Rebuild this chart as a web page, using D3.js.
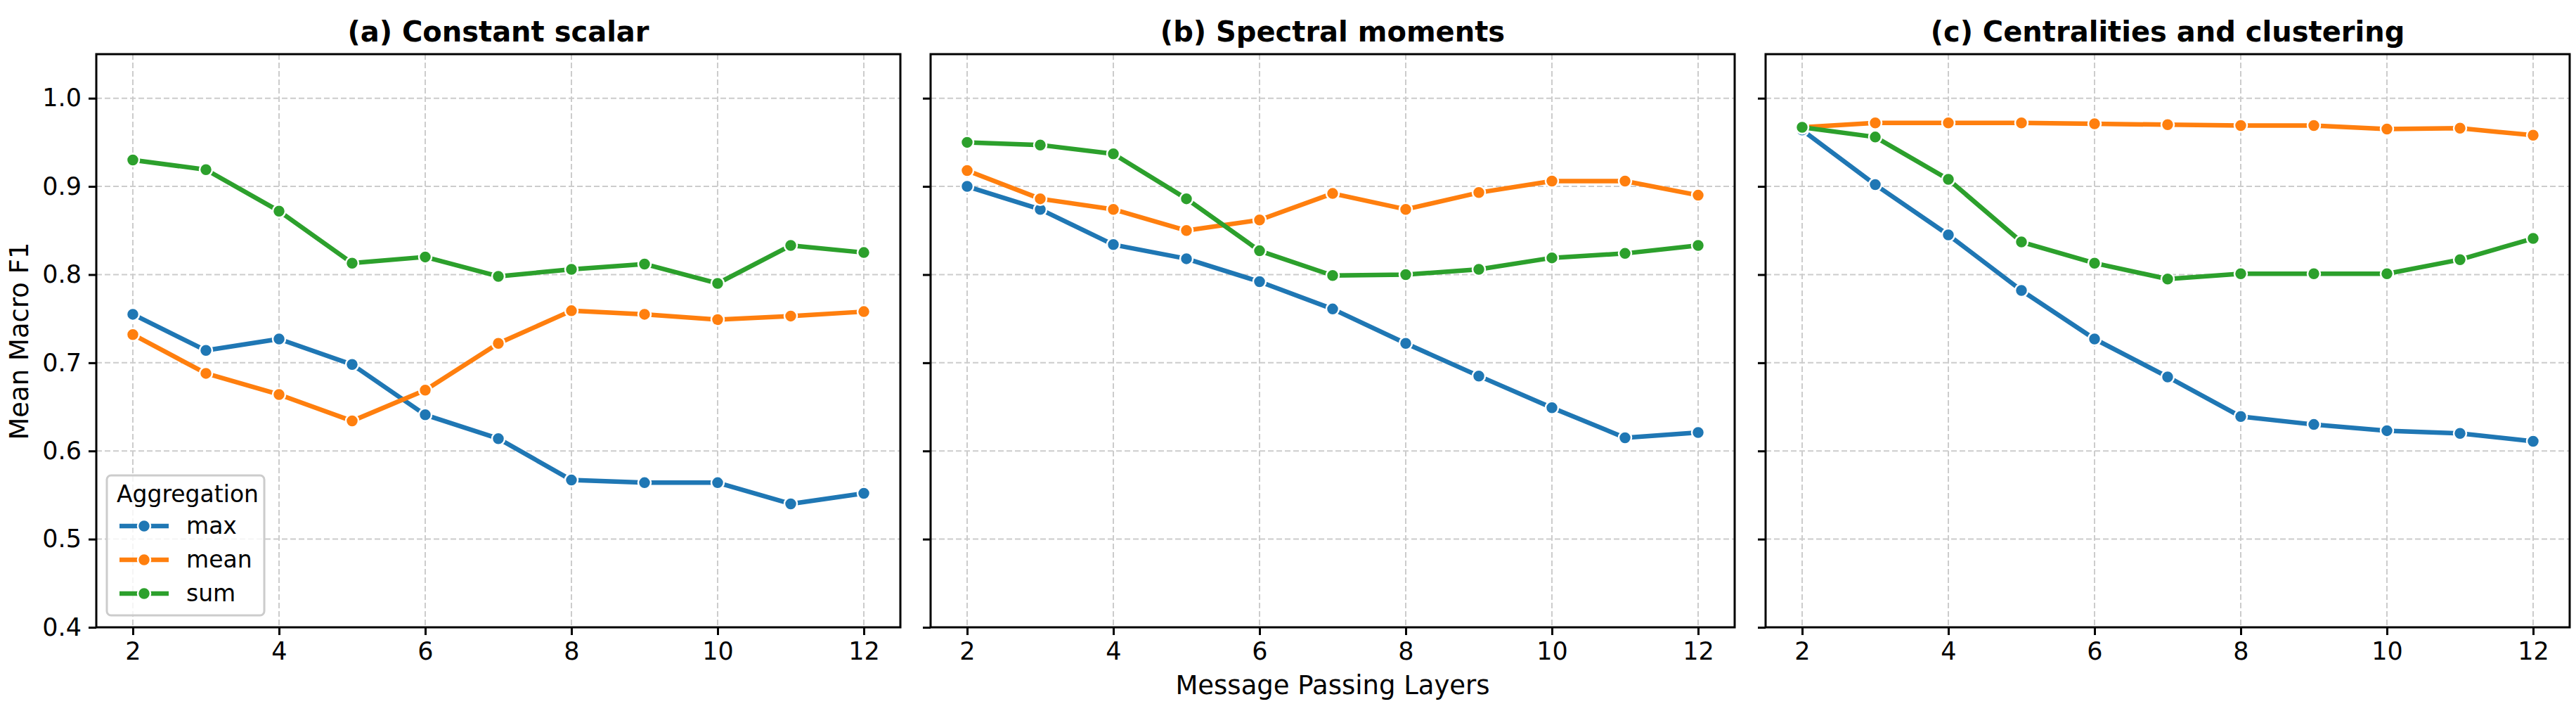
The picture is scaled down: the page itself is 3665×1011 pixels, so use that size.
<!DOCTYPE html>
<html>
<head>
<meta charset="utf-8">
<script src="https://cdn.jsdelivr.net/npm/d3@7"></script>
<style>
  body { margin:0; background:#fff; }
  text { font-family: "DejaVu Sans", sans-serif; fill:#000; }
</style>
</head>
<body>
<svg id="chart" width="3665" height="1011"></svg>
<script>
const layers = [2,3,4,5,6,7,8,9,10,11,12];
const aggregations = ["max","mean","sum"];
const panelTitles = ["(a) Constant scalar","(b) Spectral moments","(c) Centralities and clustering"];
const yTicks = [0.4,0.5,0.6,0.7,0.8,0.9,1.0];
const xTicks = [2,4,6,8,10,12];

const constMax  = [0.755,0.714,0.727,0.698,0.641,0.614,0.567,0.564,0.564,0.540,0.552];
const constMean = [0.732,0.688,0.664,0.634,0.669,0.722,0.759,0.755,0.749,0.753,0.758];
const constSum  = [0.930,0.919,0.872,0.813,0.820,0.798,0.806,0.812,0.790,0.833,0.825];
const specMax   = [0.900,0.874,0.834,0.818,0.792,0.761,0.722,0.685,0.649,0.615,0.621];
const specMean  = [0.918,0.886,0.874,0.850,0.862,0.892,0.874,0.893,0.906,0.906,0.890];
const specSum   = [0.950,0.947,0.937,0.886,0.827,0.799,0.800,0.806,0.819,0.824,0.833];
const centMax   = [0.964,0.902,0.845,0.782,0.727,0.684,0.639,0.630,0.623,0.620,0.611];
const centMean  = [0.967,0.972,0.972,0.972,0.971,0.970,0.969,0.969,0.965,0.966,0.958];
const centSum   = [0.967,0.956,0.908,0.837,0.813,0.795,0.801,0.801,0.801,0.817,0.841];

const panels = [
  [constMax, constMean, constSum],
  [specMax, specMean, specSum],
  [centMax, centMean, centSum]
];
const colors = ["#1f77b4","#ff7f0e","#2ca02c"];

const svg = d3.select("#chart");
const panelLeft = [137, 1324, 2512];
const panelW = 1144;
const plotTop = 77, plotBottom = 892;

const y = d3.scaleLinear().domain([0.4,1.05]).range([plotBottom, plotTop]);

panels.forEach((series, pi) => {
  const x = d3.scaleLinear().domain([1.5,12.5]).range([panelLeft[pi], panelLeft[pi] + panelW]);
  const g = svg.append("g");

  //grid
  g.append("g").selectAll("line").data(xTicks).join("line")
    .attr("x1", d => x(d)).attr("x2", d => x(d)).attr("y1", plotTop).attr("y2", plotBottom)
    .attr("stroke", "#cccccc").attr("stroke-width", 2).attr("stroke-dasharray", "8,4");
  g.append("g").selectAll("line").data(yTicks).join("line")
    .attr("x1", panelLeft[pi]).attr("x2", panelLeft[pi] + panelW).attr("y1", d => y(d)).attr("y2", d => y(d))
    .attr("stroke", "#cccccc").attr("stroke-width", 2).attr("stroke-dasharray", "8,4");

  //axes
  const xAxis = g.append("g").attr("transform", `translate(0,${plotBottom})`)
    .call(d3.axisBottom(x).tickValues(xTicks).tickSize(11).tickPadding(10));
  const yAxis = g.append("g").attr("transform", `translate(${panelLeft[pi]},0)`)
    .call(d3.axisLeft(y).tickValues(yTicks).tickSize(11).tickPadding(10)
      .tickFormat(pi === 0 ? d3.format(".1f") : () => ""));
  [xAxis, yAxis].forEach(a => {
    a.select(".domain").remove();
    a.selectAll("line").attr("stroke-width", 3);
    a.selectAll("text").attr("font-size", 35).attr("font-family", "DejaVu Sans");
  });

  //lines
  const line = d3.line().x((d, i) => x(layers[i])).y(d => y(d));
  series.forEach((vals, si) => {
    g.append("path").datum(vals).attr("d", line)
      .attr("fill", "none").attr("stroke", colors[si]).attr("stroke-width", 6.5).attr("stroke-linejoin", "round");
    g.append("g").selectAll("circle").data(vals).join("circle")
      .attr("cx", (d, i) => x(layers[i])).attr("cy", d => y(d)).attr("r", 9)
      .attr("fill", colors[si]).attr("stroke", "#fff").attr("stroke-width", 2.5);
  });

  //frame
  g.append("rect").attr("x", panelLeft[pi]).attr("y", plotTop).attr("width", panelW).attr("height", plotBottom - plotTop)
    .attr("fill", "none").attr("stroke", "#000").attr("stroke-width", 3);

  g.append("text").attr("x", panelLeft[pi] + panelW / 2).attr("y", 59).attr("text-anchor", "middle")
    .attr("font-size", 40).attr("font-weight", "bold").text(panelTitles[pi]);
});

svg.append("text").attr("x", 1324 + panelW / 2).attr("y", 987).attr("text-anchor", "middle")
  .attr("font-size", 37).text("Message Passing Layers");
svg.append("text").attr("transform", "translate(40,485) rotate(-90)").attr("text-anchor", "middle")
  .attr("font-size", 37).text("Mean Macro F1");

//legend
const lg = svg.append("g");
lg.append("rect").attr("x", 152).attr("y", 676).attr("width", 224).attr("height", 199).attr("rx", 6)
  .attr("fill", "rgba(255,255,255,0.8)").attr("stroke", "#cccccc").attr("stroke-width", 3);
lg.append("text").attr("x", 166).attr("y", 714).attr("font-size", 33).text("Aggregation");
aggregations.forEach((name, i) => {
  const cy = 748 + i * 48;
  lg.append("line").attr("x1", 170).attr("x2", 240).attr("y1", cy).attr("y2", cy)
    .attr("stroke", colors[i]).attr("stroke-width", 6.5);
  lg.append("circle").attr("cx", 205).attr("cy", cy).attr("r", 9)
    .attr("fill", colors[i]).attr("stroke", "#fff").attr("stroke-width", 2.5);
  lg.append("text").attr("x", 265).attr("y", cy + 11).attr("font-size", 33).text(name);
});
</script>
</body>
</html>
